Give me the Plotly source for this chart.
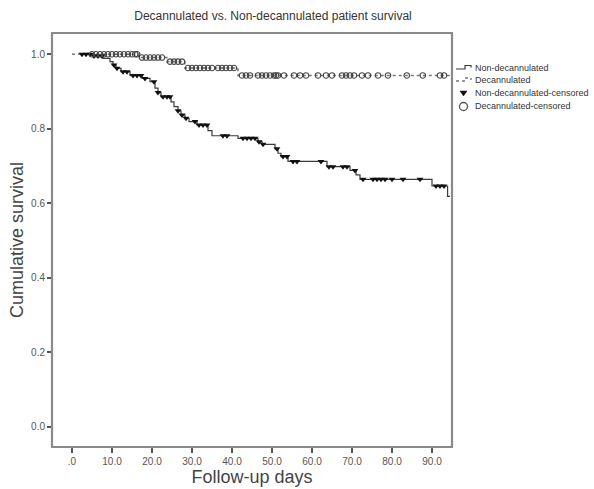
import numpy as np
import plotly.graph_objects as go

# ---------------- data ----------------
# Non-decannulated Kaplan-Meier steps (day, cumulative survival after step)
nondec_times = [2.5, 5.25, 7.75, 9.5, 10.25, 11, 12.25, 14.5, 17.5, 19.5, 20.75, 21.5,
                22.25, 24.75, 25.5, 26.5, 27.25, 28.25, 29.25, 31.25, 34, 35, 41.5, 46.5,
                47.5, 50.75, 51.5, 52.25, 54, 63.75, 69.5, 71, 72, 90, 93.9, 94.5]
nondec_surv = [1.0, 0.995, 0.989, 0.98, 0.971, 0.962, 0.953, 0.943, 0.935, 0.926, 0.909, 0.897,
               0.886, 0.872, 0.859, 0.848, 0.837, 0.828, 0.819, 0.81, 0.795, 0.781, 0.774, 0.765,
               0.758, 0.746, 0.734, 0.725, 0.712, 0.698, 0.688, 0.676, 0.664, 0.646, 0.618, 0.618]
nondec_censored = [2.5, 3.5, 4.5, 5.5, 6.5, 7.5, 10.5, 11.25, 12.75, 13.75, 15.25, 16.25, 17.25,
                   18.25, 20.5, 21.5, 22.75, 23.75, 24.5, 26.5, 27.5, 28.5, 30.75, 31.75, 32.75,
                   33.75, 37.75, 38.75, 42.75, 43.75, 44.75, 45.75, 46.75, 47.75, 51.25, 52.75,
                   53.75, 55.25, 56.25, 62.25, 64.25, 65.25, 67.75, 68.75, 70.75, 72.75, 75.25,
                   76.25, 77.25, 78.25, 80, 82.75, 87, 91, 92, 93]

# Decannulated Kaplan-Meier steps
dec_times = [0, 16.6, 23.7, 28.2, 41.5, 94.5]
dec_surv = [1.0, 0.991, 0.98, 0.963, 0.943, 0.943]
dec_censored = [5, 6, 7, 8, 9, 10, 11, 12, 13, 14, 15, 15.8, 16.3, 17.5, 18.5, 19.5, 20.5, 21.5,
                22.5, 24.5, 25.5, 26.5, 27.5, 29, 30, 31, 32, 33, 34, 35, 36.5, 37.5, 38.5, 39.5,
                40.5, 42.5, 43.5, 44.5, 46.5, 47.5, 48.5, 49.5, 50.5, 51, 51.5, 53, 55.5, 57, 58.5,
                61.5, 63.5, 65, 67.5, 68.5, 69.5, 70.5, 72.5, 74, 76.5, 79, 83.7, 87.7, 92, 93]

x_tickvals = [0, 10, 20, 30, 40, 50, 60, 70, 80, 90]
x_ticktext = [".0", "10.0", "20.0", "30.0", "40.0", "50.0", "60.0", "70.0", "80.0", "90.0"]
y_tickvals = [0.0, 0.2, 0.4, 0.6, 0.8, 1.0]
y_ticktext = ["0.0", "0.2", "0.4", "0.6", "0.8", "1.0"]

legend_labels = ["Non-decannulated", "Decannulated",
                 "Non-decannulated-censored", "Decannulated-censored"]


def step_value(t, times, surv):
    times = np.asarray(times)
    surv = np.asarray(surv)
    idx = np.searchsorted(times, np.asarray(t), side="right") - 1
    idx = np.clip(idx, 0, len(surv) - 1)
    return surv[idx]


FONT = "Liberation Sans, Arial, sans-serif"
W, H = 594, 489
L, R, T, B = 52, 142, 33, 42
PW, PH = W - L - R, H - T - B

fig = go.Figure()

fig.add_trace(go.Scatter(
    x=nondec_times, y=nondec_surv, mode="lines", line_shape="hv",
    line=dict(color="#3a3a3a", width=1.2), showlegend=False, name=legend_labels[0]))
fig.add_trace(go.Scatter(
    x=dec_times, y=dec_surv, mode="lines", line_shape="hv",
    line=dict(color="#777777", width=1.6, dash="dot"), showlegend=False, name=legend_labels[1]))
fig.add_trace(go.Scatter(
    x=nondec_censored, y=step_value(nondec_censored, nondec_times, nondec_surv),
    mode="markers", marker=dict(symbol="triangle-down", size=6, color="#111111",
                                line=dict(width=0)),
    showlegend=False, name=legend_labels[2]))
fig.add_trace(go.Scatter(
    x=dec_censored, y=step_value(dec_censored, dec_times, dec_surv),
    mode="markers", marker=dict(symbol="circle-open", size=5.5, color="#444444",
                                line=dict(width=1.1)),
    showlegend=False, name=legend_labels[3]))


def px2paper(px, py):
    return (px - L) / PW, (T + PH - py) / PH


shapes = []
# frame
shapes.append(dict(type="rect", xref="paper", yref="paper", x0=0, y0=0, x1=1, y1=1,
                   line=dict(color="#8a8a8a", width=2.2), layer="above"))

# legend samples
def path_from(points):
    parts = []
    for i, (px, py) in enumerate(points):
        x, y = px2paper(px, py)
        parts.append(("M" if i == 0 else "L") + f"{x:.5f},{y:.5f}")
    return " ".join(parts)

shapes.append(dict(type="path", xref="paper", yref="paper",
                   path=path_from([(456, 69), (465, 69), (465, 65.5), (471, 65.5), (471, 67.5)]),
                   line=dict(color="#3a3a3a", width=1.2)))
shapes.append(dict(type="path", xref="paper", yref="paper",
                   path=path_from([(456, 81), (465, 81), (465, 78), (471, 78), (471, 80)]),
                   line=dict(color="#777777", width=1.4, dash="dot")))
shapes.append(dict(type="path", xref="paper", yref="paper",
                   path=path_from([(460, 91), (467, 91), (463.5, 96)]) + " Z",
                   fillcolor="#111111", line=dict(color="#111111", width=0.5)))
cx0, cy0 = px2paper(459.5, 102.5)
cx1, cy1 = px2paper(467.5, 110.5)
shapes.append(dict(type="circle", xref="paper", yref="paper", x0=cx0, y0=cy1, x1=cx1, y1=cy0,
                   line=dict(color="#555555", width=1.3)))

annotations = []
for label, py in zip(legend_labels, [67.5, 79.5, 93, 106]):
    x, y = px2paper(473, py)
    annotations.append(dict(x=x, y=y, xref="paper", yref="paper", text=label,
                            showarrow=False, xanchor="left", yanchor="middle",
                            font=dict(family=FONT, size=9, color="#333333")))

fig.update_layout(
    width=W, height=H,
    margin=dict(l=L, r=R, t=T, b=B, pad=0),
    paper_bgcolor="white", plot_bgcolor="white",
    showlegend=False,
    title=dict(text="Decannulated vs. Non-decannulated patient survival",
               x=273 / W, xanchor="center", xref="container",
               y=1 - 16 / H, yanchor="middle",
               font=dict(family=FONT, size=12, color="#333333")),
    shapes=shapes,
    annotations=annotations,
    font=dict(family=FONT, color="#444444"),
)

fig.update_xaxes(
    range=[-5, 95], tickvals=x_tickvals, ticktext=x_ticktext,
    ticks="outside", ticklen=5, tickwidth=2, tickcolor="#555555",
    tickfont=dict(family=FONT, size=10, color="#555555"),
    showgrid=False, zeroline=False, showline=False,
    title=dict(text="Follow-up days", font=dict(family=FONT, size=18, color="#444444"),
               standoff=1),
    automargin=False,
)
fig.update_yaxes(
    range=[-0.055, 1.057], tickvals=y_tickvals, ticktext=y_ticktext,
    ticks="outside", ticklen=4, tickwidth=2, tickcolor="#555555",
    tickfont=dict(family=FONT, size=10, color="#555555"),
    showgrid=False, zeroline=False, showline=False,
    title=dict(text="Cumulative survival", font=dict(family=FONT, size=18, color="#444444"),
               standoff=2),
    automargin=False,
)

fig.write_html("out.html",
               config={"displayModeBar": False},
               post_script="document.body.style.margin='0';document.body.style.overflow='hidden';")
